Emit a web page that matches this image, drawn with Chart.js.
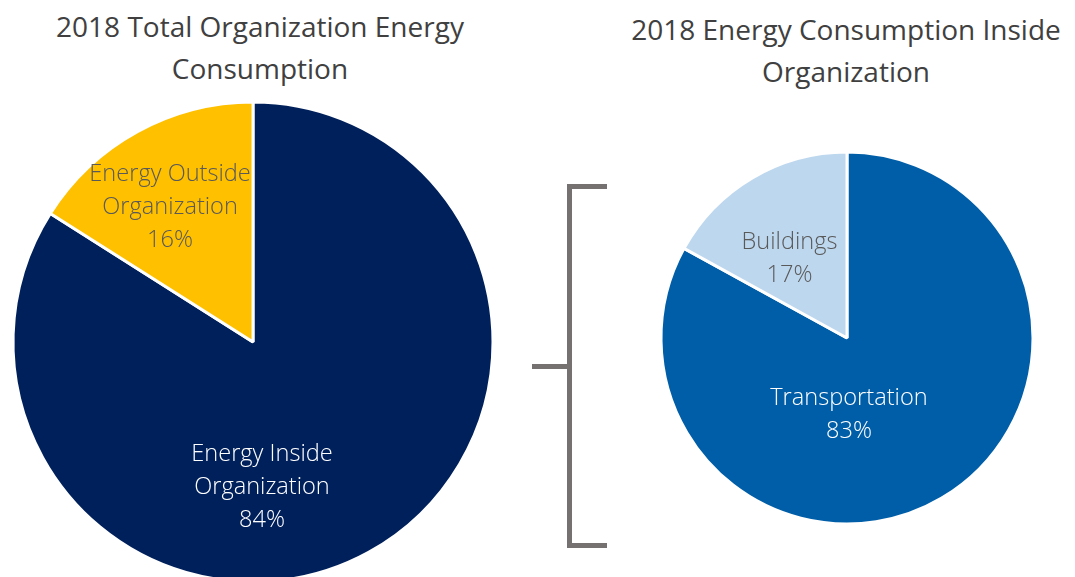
<!DOCTYPE html>
<html>
<head>
<meta charset="utf-8">
<script src="https://cdn.jsdelivr.net/npm/chart.js@4.4.1/dist/chart.umd.min.js"></script>
<style>
  html, body { margin: 0; padding: 0; width: 1075px; height: 577px; overflow: hidden; background: #fff; position: relative; }
  .title { position: absolute; font-family: "Open Sans", sans-serif; font-size: 28px; line-height: 42px; color: #404040; text-align: center; white-space: nowrap; }
  .box { position: absolute; }
  .br { position: absolute; background: #767171; }
</style>
</head>
<body>
<div class="title" style="left:10px; width:500px; top:5px;">2018 Total Organization Energy<br>Consumption</div>
<div class="title" style="left:596px; width:500px; top:8px;">2018 Energy Consumption Inside<br>Organization</div>

<div class="box" style="left:-7px; top:82px; width:520px; height:520px;"><canvas id="left"></canvas></div>
<div class="box" style="left:647px; top:138px; width:400px; height:400px;"><canvas id="right"></canvas></div>

<div class="br" style="left:567px; top:184px; width:5px; height:364px;"></div>
<div class="br" style="left:567px; top:184px; width:40px; height:5px;"></div>
<div class="br" style="left:567px; top:543px; width:40px; height:5px;"></div>
<div class="br" style="left:532px; top:364px; width:40px; height:5px;"></div>

<script>
// ---- data ----
const totalCategories = ["Energy Inside Organization", "Energy Outside Organization"];
const totalValues = [84, 16];
const insideCategories = ["Transportation", "Buildings"];
const insideValues = [83, 17];

// ---- styles ----
const totalColors = ["#00205B", "#FFC000"];
const insideColors = ["#005EA8", "#BDD7EE"];
const totalLabelLines = [["Energy Inside", "Organization"], ["Energy Outside", "Organization"]];
const insideLabelLines = [["Transportation"], ["Buildings"]];
const totalLabelColors = ["#FFFFFF", "#595959"];
const insideLabelColors = ["#FFFFFF", "#595959"];
// label placement: angle shift from slice mid-angle (deg) and fraction of radius
const totalLabelPlace = [{shift: 25.2, frac: 0.597}, {shift: -2.4, frac: 0.667}];
const insideLabelPlace = [{shift: 29.1, frac: 0.40}, {shift: -4.6, frac: 0.536}];

const sliceLabels = {
  id: 'sliceLabels',
  afterDatasetsDraw(chart, args, opts) {
    const ctx = chart.ctx;
    const meta = chart.getDatasetMeta(0);
    const data = chart.data.datasets[0].data;
    const total = data.reduce((a, b) => a + b, 0);
    ctx.save();
    ctx.font = '300 23.6px "Open Sans", sans-serif';
    ctx.textAlign = 'center';
    ctx.textBaseline = 'middle';
    meta.data.forEach((arc, i) => {
      const p = arc.getProps(['x', 'y', 'startAngle', 'endAngle', 'outerRadius'], true);
      const mid = (p.startAngle + p.endAngle) / 2 + opts.place[i].shift * Math.PI / 180;
      const r = p.outerRadius * opts.place[i].frac;
      const cx = p.x + Math.cos(mid) * r;
      const cy = p.y + Math.sin(mid) * r + 2;
      const lines = opts.lines[i].concat([Math.round(data[i] / total * 100) + '%']);
      const lh = 33;
      const y0 = cy - (lines.length - 1) * lh / 2;
      ctx.fillStyle = opts.colors[i];
      lines.forEach((t, k) => ctx.fillText(t, cx, y0 + k * lh));
    });
    ctx.restore();
  }
};

function makePie(id, labels, values, colors, radius, lines, labelColors, place) {
  return new Chart(document.getElementById(id), {
    type: 'pie',
    data: {
      labels: labels,
      datasets: [{
        data: values,
        backgroundColor: colors,
        borderColor: '#FFFFFF',
        borderWidth: 3
      }]
    },
    options: {
      responsive: true,
      maintainAspectRatio: false,
      animation: false,
      radius: radius,
      layout: { padding: 0 },
      plugins: {
        legend: { display: false },
        tooltip: { enabled: false },
        title: { display: false },
        sliceLabels: { lines: lines, colors: labelColors, place: place }
      }
    },
    plugins: [sliceLabels]
  });
}

makePie('left', totalCategories, totalValues, totalColors, 240, totalLabelLines, totalLabelColors, totalLabelPlace);
makePie('right', insideCategories, insideValues, insideColors, 186, insideLabelLines, insideLabelColors, insideLabelPlace);
</script>
</body>
</html>
